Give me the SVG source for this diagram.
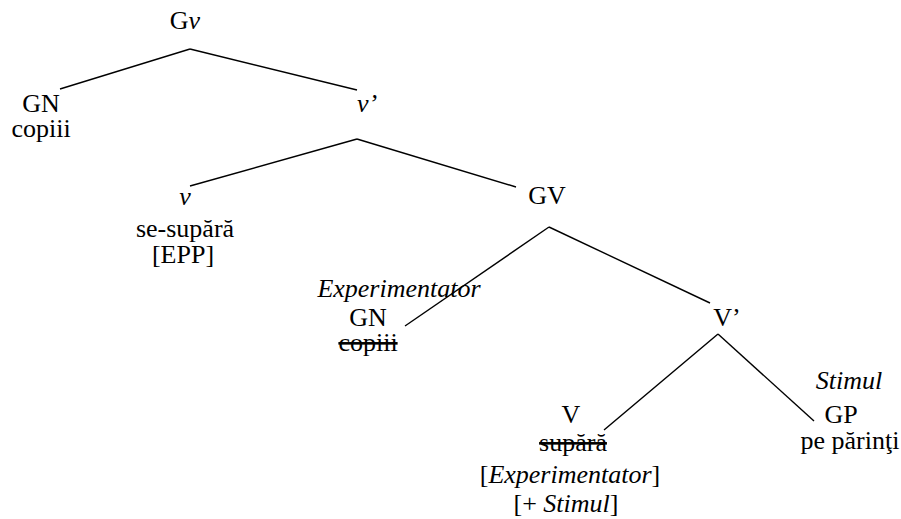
<svg xmlns="http://www.w3.org/2000/svg" width="901" height="519" viewBox="0 0 901 519">
<style>
text{font-family:"Liberation Serif","Times New Roman",Times,serif;font-size:26px;fill:#000;text-anchor:middle}
.i{font-style:italic}
.s{text-decoration:line-through}
#edges line{stroke:#000;stroke-width:1.4}
</style>
<rect width="901" height="519" fill="#fff"/>
<g id="edges">
<line x1="190" y1="49" x2="60" y2="89"/>
<line x1="190" y1="49" x2="357" y2="90"/>
<line x1="357" y1="139" x2="190" y2="186"/>
<line x1="357" y1="139" x2="516" y2="187"/>
<line x1="549" y1="227" x2="405" y2="326"/>
<line x1="549" y1="227" x2="710" y2="303"/>
<line x1="718" y1="334" x2="604" y2="430"/>
<line x1="718" y1="334" x2="814" y2="421"/>
</g>
<g id="n-Gv"><text x="185" y="29">G<tspan class="i">v</tspan></text></g>
<g id="n-GN1"><text x="41" y="112">GN</text><text x="41" y="137">copiii</text></g>
<g id="n-vbar"><text x="367" y="112" class="i">v’</text></g>
<g id="n-v"><text x="185" y="205" class="i">v</text><text x="185" y="237">se-supără</text><text x="183" y="263">[EPP]</text></g>
<g id="n-GV"><text x="547" y="204">GV</text></g>
<g id="n-GN2"><text x="399" y="297" class="i">Experimentator</text><text x="368" y="326">GN</text><text x="368" y="351" class="s">copiii</text></g>
<g id="n-Vbar"><text x="727" y="326">V’</text></g>
<g id="n-V"><text x="571" y="423">V</text><text x="573" y="451" class="s">supără</text><text x="570" y="483">[<tspan class="i">Experimentator</tspan>]</text><text x="566" y="512">[+ <tspan class="i">Stimul</tspan>]</text></g>
<g id="n-GP"><text x="849" y="389" class="i">Stimul</text><text x="841" y="423">GP</text><text x="850" y="449">pe părinţi</text></g>
</svg>
